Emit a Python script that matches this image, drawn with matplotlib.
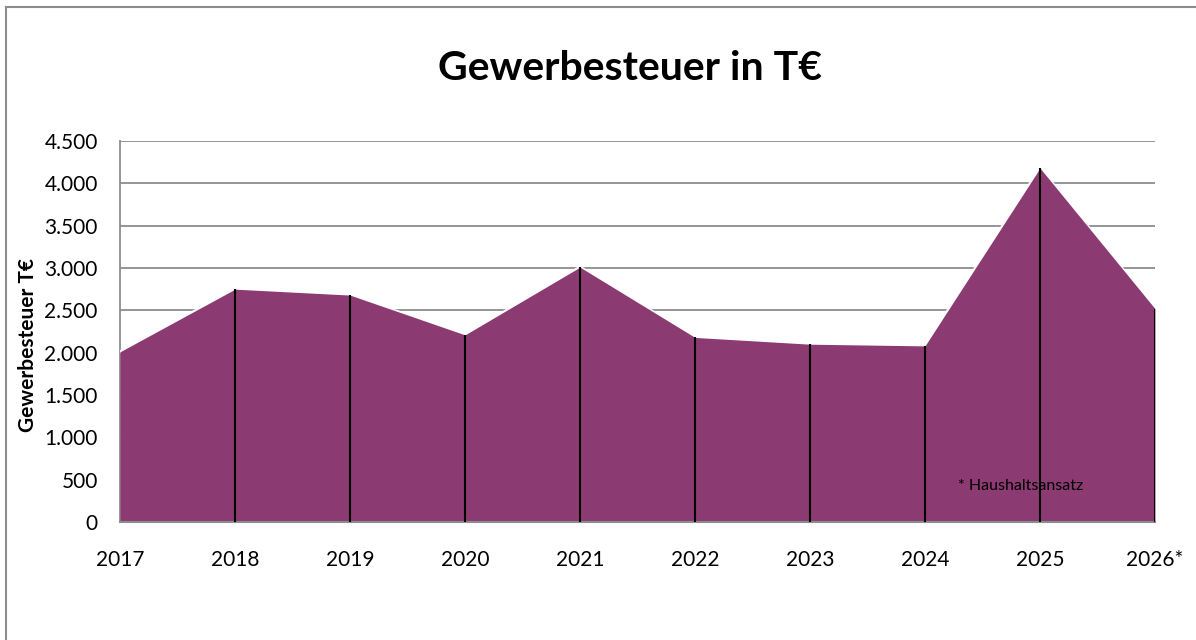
import matplotlib
matplotlib.use("Agg")
import matplotlib.pyplot as plt
from matplotlib.lines import Line2D

years = ["2017", "2018", "2019", "2020", "2021", "2022", "2023", "2024", "2025", "2026*"]
gewerbesteuer = [2010, 2750, 2680, 2210, 3010, 2180, 2100, 2080, 4180, 2520]
yticks = [0, 500, 1000, 1500, 2000, 2500, 3000, 3500, 4000, 4500]
ytick_labels = ["0", "500", "1.000", "1.500", "2.000", "2.500", "3.000", "3.500", "4.000", "4.500"]

plt.rcParams["font.family"] = ["Lato", "DejaVu Sans"]

fig = plt.figure(figsize=(11.96, 6.4), dpi=100)
W, H = 1196, 640
ax = fig.add_axes([120 / W, 1 - 522 / H, (1155 - 120) / W, (522 - 141) / H])

xs = list(range(len(years)))
ax.set_axisbelow(True)
for t in yticks[1:]:
    ax.axhline(t, color="#8c8c8c", linewidth=1.3, zorder=0)

ax.fill_between(xs, gewerbesteuer, 0, color="#8b3a72", linewidth=0, zorder=2)
ax.plot(xs, gewerbesteuer, color="white", linewidth=2.2, alpha=0.9, zorder=1.5)
ax.vlines(xs[1:], 0, gewerbesteuer[1:], color="black", linewidth=1.5, zorder=3)

ax.set_xlim(0, len(years) - 1)
ax.set_ylim(0, 4500)
ax.set_xticks(xs)
ax.set_xticklabels(years, fontsize=15)
ax.set_yticks(yticks)
ax.set_yticklabels(ytick_labels, fontsize=15)
ax.tick_params(axis="x", length=0, pad=20)
ax.tick_params(axis="y", length=0, pad=16)
for s in ["top", "right"]:
    ax.spines[s].set_visible(False)
ax.spines["left"].set_color("#8c8c8c")
ax.spines["bottom"].set_color("#8c8c8c")
ax.spines["left"].set_linewidth(1.3)
ax.spines["bottom"].set_linewidth(1.5)
ax.spines["left"].set_zorder(0)

ax.set_ylabel("Gewerbesteuer T€", fontsize=15, fontweight="bold")
ax.yaxis.set_label_coords(-0.079, 0.465)

fig.text(630 / W, 1 - 68 / H, "Gewerbesteuer in T€", fontsize=29.5, fontweight="bold",
         ha="center", va="center")
ax.text(7.83, 430, "* Haushaltsansatz", fontsize=11.5, ha="center", va="center", zorder=4)

# outer chart frame (top and left edges visible)
fig.add_artist(Line2D([6 / W, 6 / W], [0, 1 - 7 / H], color="#8c8c8c", linewidth=1.5))
fig.add_artist(Line2D([6 / W, 1], [1 - 7 / H, 1 - 7 / H], color="#8c8c8c", linewidth=1.5))

fig.savefig("out.png", dpi=100)
